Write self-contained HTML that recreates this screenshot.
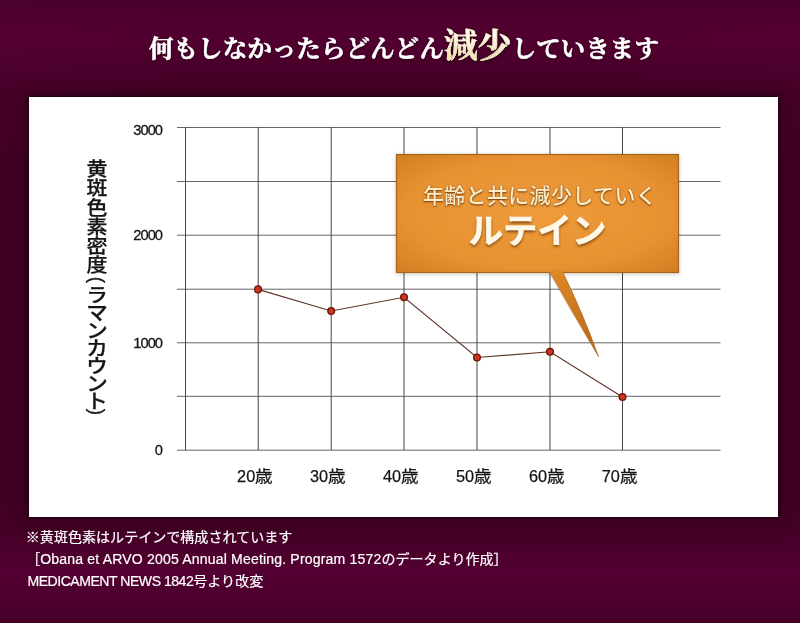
<!DOCTYPE html>
<html lang="ja">
<head>
<meta charset="utf-8">
<title>黄斑色素密度</title>
<style>
html,body{margin:0;padding:0;}
body{width:800px;height:623px;position:relative;overflow:hidden;
  background:
    radial-gradient(ellipse 200px 120px at 0px 45px, rgba(90,4,54,.25), rgba(90,4,54,0) 100%),
    radial-gradient(ellipse 200px 120px at 800px 45px, rgba(90,4,54,.2), rgba(90,4,54,0) 100%),
    linear-gradient(to bottom,#48002a 0,#50002e 22px,#51002f 45px,#4a002b 68px,#430026 90px,#410024 130px,#410024 500px,#430026 530px,#4c002c 550px,#530032 572px,#4e002e 598px,#47002a 623px);
  font-family:"Liberation Sans","Noto Sans CJK JP",sans-serif;color:#fff;}
.abs{position:absolute;white-space:nowrap;}
#title{left:3.5px;width:800px;top:24px;text-align:center;font-family:"Liberation Serif","Noto Serif CJK SC",serif;
  font-weight:700;font-size:23.5px;line-height:44px;letter-spacing:0;transform:scaleX(1.045);color:#fff;-webkit-text-stroke:0.55px #fff;text-shadow:0 1px 3px rgba(0,0,0,.6);}
#title .big{font-size:32.5px;color:#f6e3b0;-webkit-text-stroke:0.5px #f8ecc8;letter-spacing:0;
  background:linear-gradient(#fffbea 20%,#efdcae 90%);-webkit-background-clip:text;background-clip:text;-webkit-text-fill-color:transparent;text-shadow:none;filter:drop-shadow(0 1px 2px rgba(0,0,0,.6));}
#panel{left:29px;top:97px;width:749px;height:419.6px;background:#fff;box-shadow:0 0 3px 1px rgba(25,0,12,.85),0 0 16px 3px rgba(40,0,20,.55);}
svg{position:absolute;left:0;top:0;}
.ylab{font-size:14.7px;letter-spacing:-1px;-webkit-text-stroke:0.3px #151515;color:#151515;text-align:right;width:40px;line-height:16px;}
.xlab{font-size:16.3px;color:#151515;-webkit-text-stroke:0.25px #151515;text-align:center;width:60px;line-height:20px;}
.xlab span{display:inline-block;transform:scaleX(1.08);transform-origin:0 50%;margin-right:1.2px;}
.vt{left:84.5px;top:160.2px;width:24px;transform:scaleX(1.088);color:#161616;-webkit-text-stroke:0.25px #161616;font-size:19.3px;font-weight:500;text-align:center;}
.vt div{height:19.2px;line-height:19.2px;}
.vt .k{height:17.65px;line-height:17.65px;font-size:19.8px;}
.vt .par{height:12px;line-height:12px;transform:rotate(90deg);font-size:19px;}
.foot{font-size:14.05px;line-height:16px;color:#fff;-webkit-text-stroke:0.2px #fff;}
.c1{left:398.5px;width:283px;text-align:center;top:182.4px;font-size:21px;letter-spacing:.35px;font-weight:500;line-height:28px;color:#fdedc6;text-shadow:0 1px 2px rgba(90,40,0,.85),0 0 1px rgba(90,40,0,.5);}
.c2{left:396px;width:283px;text-align:center;top:209.2px;font-size:34.4px;line-height:44px;font-weight:700;color:#fff8e6;-webkit-text-stroke:0.6px #fff8e6;text-shadow:0 2px 3px rgba(90,40,0,.75);}
</style>
</head>
<body>
<div id="panel" class="abs"></div>
<div id="title" class="abs">何もしなかったらどんどん<span class="big">減少</span>していきます</div>

<svg width="800" height="623" viewBox="0 0 800 623">
  <defs>
    <radialGradient id="og" cx="50%" cy="50%" r="75%">
      <stop offset="0" stop-color="#ee9b3b"/>
      <stop offset="0.62" stop-color="#e79131"/>
      <stop offset="1" stop-color="#cd7a21"/>
    </radialGradient>
    <linearGradient id="tg" x1="0" y1="0" x2="0" y2="1">
      <stop offset="0" stop-color="#df8827"/>
      <stop offset="1" stop-color="#b3651a"/>
    </linearGradient>
    <filter id="sh" x="-10%" y="-10%" width="120%" height="130%">
      <feGaussianBlur in="SourceAlpha" stdDeviation="2"/>
      <feOffset dx="0" dy="1"/>
      <feComponentTransfer><feFuncA type="linear" slope="0.22"/></feComponentTransfer>
      <feMerge><feMergeNode/><feMergeNode in="SourceGraphic"/></feMerge>
    </filter>
  </defs>
  <g stroke="#666" stroke-width="1" fill="none">
    <path d="M177 127.5H720.5M177 181.5H720.5M177 235.2H720.5M177 289.2H720.5M177 342.8H720.5M177 396.3H720.5M177 450.2H720.5"/>
  </g>
  <g stroke="#444" stroke-width="1" fill="none">
    <path d="M185.5 127.5V450.2M258.2 127.5V450M331.2 127.5V450M404 127.5V450M477 127.5V450M550 127.5V450M622.5 127.5V450"/>
  </g>
  <polyline points="258,289.4 331.2,311 404,297.3 477,357.5 550,351.8 622.5,397" fill="none" stroke="#5e3426" stroke-width="1.15"/>
  <g fill="#cd3822" stroke="#76170d" stroke-width="1.5">
    <circle cx="258" cy="289.4" r="3.3"/><circle cx="331.2" cy="311" r="3.3"/><circle cx="404" cy="297.3" r="3.3"/>
    <circle cx="477" cy="357.5" r="3.3"/><circle cx="550" cy="351.8" r="3.3"/><circle cx="622.5" cy="397" r="3.3"/>
  </g>
  <rect x="396.5" y="154.5" width="282" height="118" fill="url(#og)" stroke="#a5641c" stroke-width="1.2" filter="url(#sh)"/>
  <path d="M549.6 270.5 L549.6 271.8 Q573 313.5 598.6 356.8 Q583 313 562.8 271.8 L562.8 270.5Z" fill="url(#tg)"/>
  <path d="M549.6 272.6 Q573 313.8 598.6 356.8 Q583 313 562.8 272.6" fill="none" stroke="#a9651b" stroke-width="0.6" stroke-linejoin="round"/>
</svg>

<div class="abs ylab" style="left:122px;top:121.5px;">3000</div>
<div class="abs ylab" style="left:122px;top:227.1px;">2000</div>
<div class="abs ylab" style="left:122px;top:334.9px;">1000</div>
<div class="abs ylab" style="left:122px;top:442.2px;">0</div>

<div class="abs xlab" style="left:224.9px;top:466px;">20<span>歳</span></div>
<div class="abs xlab" style="left:297.8px;top:466px;">30<span>歳</span></div>
<div class="abs xlab" style="left:370.8px;top:466px;">40<span>歳</span></div>
<div class="abs xlab" style="left:443.8px;top:466px;">50<span>歳</span></div>
<div class="abs xlab" style="left:516.8px;top:466px;">60<span>歳</span></div>
<div class="abs xlab" style="left:589.5px;top:466px;">70<span>歳</span></div>

<div class="abs vt"><div>黄</div><div>斑</div><div>色</div><div>素</div><div>密</div><div>度</div><div class="par" style="position:relative;top:-1.5px">(</div><div class="k">ラ</div><div class="k">マ</div><div class="k">ン</div><div class="k">カ</div><div class="k">ウ</div><div class="k">ン</div><div class="k">ト</div><div class="par" style="margin-top:-4.5px">)</div></div>

<div class="abs c1">年齢と共に減少していく</div>
<div class="abs c2">ルテイン</div>

<div class="abs foot" style="left:25.8px;top:528.5px;">※黄斑色素はルテインで構成されています</div>
<div class="abs foot" style="left:26.2px;top:550.5px;">［<span style="letter-spacing:0.17px">Obana et ARVO 2005 Annual Meeting. Program 1572</span>のデータより作成］</div>
<div class="abs foot" style="left:27.5px;top:572.5px;"><span style="letter-spacing:-0.48px">MEDICAMENT NEWS 1842</span>号より改変</div>
</body>
</html>
